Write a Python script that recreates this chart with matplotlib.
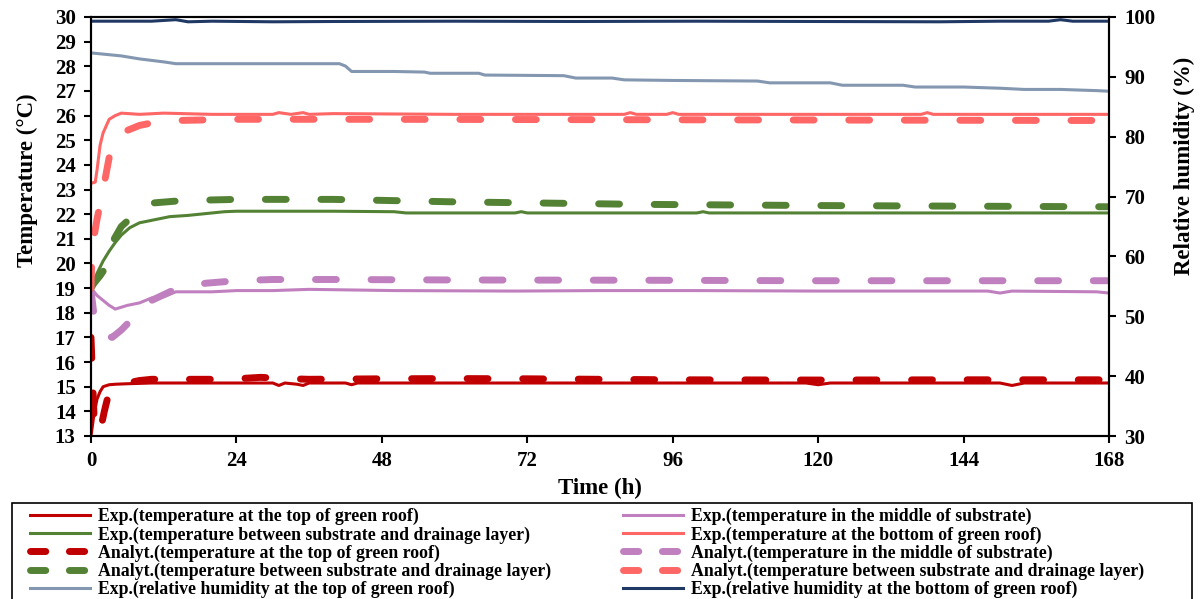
import matplotlib
matplotlib.use("Agg")
import matplotlib.pyplot as plt
from matplotlib.lines import Line2D
from matplotlib.patches import Rectangle

plt.rcParams["font.family"] = ["Liberation Serif", "DejaVu Serif"]
plt.rcParams["font.weight"] = "bold"

# --- data (time in h) ---
t_top = [0, 0.5, 1, 1.5, 2, 3, 4, 6, 10, 20, 30, 31, 32, 34, 35, 36, 42, 43, 44, 60, 84, 100, 118, 120, 122, 140, 150, 152, 154, 168]
exp_top = [13.0, 13.9, 14.5, 14.8, 15.0, 15.08, 15.1, 15.12, 15.15, 15.15, 15.15, 15.05, 15.15, 15.1, 15.05, 15.15, 15.15, 15.08, 15.15, 15.15, 15.15, 15.15, 15.15, 15.08, 15.15, 15.15, 15.15, 15.05, 15.15, 15.15]

t_an_top = [0, 0.15, 0.3, 0.5, 1.0, 1.6, 2.2, 2.8, 4, 6, 8, 10, 14, 20, 24, 28, 32, 36, 48, 60, 72, 84, 96, 120, 144, 168]
an_top = [17.0, 16.0, 15.0, 13.8, 13.1, 13.3, 14.0, 14.6, 14.95, 15.15, 15.25, 15.3, 15.3, 15.3, 15.32, 15.38, 15.33, 15.3, 15.32, 15.33, 15.32, 15.3, 15.28, 15.27, 15.28, 15.28]

t_mid = [0, 1, 2, 3, 4, 6, 8, 10, 12, 14, 20, 24, 30, 36, 50, 70, 84, 100, 120, 148, 150, 152, 166, 168]
exp_mid = [19.0, 18.7, 18.5, 18.3, 18.15, 18.3, 18.4, 18.6, 18.65, 18.85, 18.85, 18.9, 18.9, 18.95, 18.9, 18.88, 18.9, 18.9, 18.88, 18.88, 18.8, 18.88, 18.85, 18.8]

t_an_mid = [0, 0.5, 1, 2, 3.5, 5, 7, 10, 13, 15, 19, 24, 30, 40, 60, 90, 120, 168]
an_mid = [18.9, 17.9, 17.4, 17.1, 17.0, 17.3, 17.8, 18.5, 18.85, 19.05, 19.2, 19.3, 19.35, 19.35, 19.33, 19.32, 19.3, 19.3]

t_bet = [0, 1, 2, 3, 4, 5, 6.4, 8, 10, 13, 16, 20, 22, 24, 40, 50, 52, 70, 71, 72, 100, 101, 102, 168]
exp_bet = [19.0, 19.6, 20.1, 20.5, 20.85, 21.15, 21.45, 21.65, 21.75, 21.9, 21.95, 22.05, 22.1, 22.12, 22.12, 22.1, 22.05, 22.05, 22.1, 22.05, 22.05, 22.1, 22.05, 22.05]

t_an_bet = [0, 0.5, 1.5, 2.6, 3.6, 5, 6.8, 8, 10, 15, 24, 40, 60, 90, 120, 168]
an_bet = [19.0, 19.2, 19.5, 19.9, 20.9, 21.5, 21.9, 22.2, 22.45, 22.55, 22.6, 22.6, 22.5, 22.4, 22.35, 22.3]

t_bot = [0, 0.7, 1, 1.5, 2, 3, 4, 5, 8, 12, 20, 30, 31, 33, 35, 36, 40, 60, 88, 89, 90, 95, 96, 97, 137, 138, 139, 168]
exp_bot = [23.25, 23.3, 23.8, 24.8, 25.3, 25.85, 26.0, 26.1, 26.05, 26.1, 26.05, 26.05, 26.12, 26.05, 26.12, 26.05, 26.08, 26.05, 26.05, 26.12, 26.05, 26.05, 26.12, 26.05, 26.05, 26.12, 26.05, 26.05]

t_an_bot = [0, 0.1, 0.3, 1, 2, 3, 4, 6, 8, 10, 14, 24, 48, 96, 168]
an_bot = [19.0, 20.0, 20.8, 21.8, 23.0, 24.3, 25.0, 25.4, 25.6, 25.7, 25.8, 25.85, 25.85, 25.83, 25.8]

t_rh_top = [0, 1, 3, 5, 8, 12, 14, 41, 42, 43, 50, 55, 56, 64, 65, 78, 80, 86, 88, 96, 110, 112, 122, 124, 134, 136, 144, 150, 154, 160, 166, 168]
rh_top = [94.0, 93.9, 93.7, 93.5, 93.0, 92.5, 92.2, 92.2, 91.8, 90.9, 90.9, 90.8, 90.6, 90.6, 90.3, 90.2, 89.8, 89.8, 89.5, 89.4, 89.3, 89.0, 89.0, 88.6, 88.6, 88.3, 88.3, 88.1, 87.9, 87.9, 87.7, 87.6]

t_rh_bot = [0, 5, 10, 14, 16, 20, 30, 40, 60, 80, 100, 120, 140, 150, 158, 160, 162, 168]
rh_bot = [99.3, 99.3, 99.3, 99.55, 99.2, 99.3, 99.2, 99.25, 99.3, 99.25, 99.3, 99.25, 99.2, 99.3, 99.3, 99.55, 99.3, 99.3]

x_ticks = [0, 24, 48, 72, 96, 120, 144, 168]

labels_left = [
    "Exp.(temperature at the top of green roof)",
    "Exp.(temperature between substrate and drainage layer)",
    "Analyt.(temperature at the top of green roof)",
    "Analyt.(temperature between substrate and drainage layer)",
    "Exp.(relative humidity at the top of green roof)",
]
labels_right = [
    "Exp.(temperature in the middle of substrate)",
    "Exp.(temperature at the bottom of green roof)",
    "Analyt.(temperature in the middle of substrate)",
    "Analyt.(temperature between substrate and drainage layer)",
    "Exp.(relative humidity at the bottom of green roof)",
]

c_top = "#C00000"
c_mid = "#C080BF"
c_bet = "#548235"
c_bot = "#FF6666"
c_rh1 = "#8497B0"
c_rh2 = "#1F3864"

W, H = 1203, 599
fig = plt.figure(figsize=(W / 100, H / 100), dpi=100)
ax = fig.add_axes([91 / W, 1 - 436 / H, 1018 / W, 419 / H])
ax2 = ax.twinx()

lw_e = 2.2
lw_a = 5.0
dsh = (3.0, 5.0)

ax.plot(t_top, exp_top, color=c_top, lw=lw_e)
ax.plot(t_mid, exp_mid, color=c_mid, lw=lw_e)
ax.plot(t_bet, exp_bet, color=c_bet, lw=lw_e)
ax.plot(t_bot, exp_bot, color=c_bot, lw=lw_e)
ax.plot(t_an_top, an_top, color=c_top, lw=lw_a, dashes=dsh, dash_capstyle="round")
ax.plot(t_an_mid, an_mid, color=c_mid, lw=lw_a, dashes=dsh, dash_capstyle="round")
ax.plot(t_an_bet, an_bet, color=c_bet, lw=lw_a, dashes=dsh, dash_capstyle="round")
ax.plot(t_an_bot, an_bot, color=c_bot, lw=lw_a, dashes=dsh, dash_capstyle="round")
ax2.plot(t_rh_top, rh_top, color=c_rh1, lw=lw_e)
ax2.plot(t_rh_bot, rh_bot, color=c_rh2, lw=lw_e)

ax.set_xlim(0, 168)
ax.set_ylim(13, 30)
ax.set_yticks(range(13, 31))
ax.set_xticks(x_ticks)
ax2.set_ylim(30, 100)
ax2.set_yticks(range(30, 101, 10))

for a in (ax, ax2):
    a.tick_params(direction="out", length=5, width=1.5, labelsize=15, pad=6)
    for s in a.spines.values():
        s.set_linewidth(1.5)

ax.set_xlabel("Time (h)", fontsize=16.5, fontweight="bold", labelpad=5)
ax.set_ylabel("Temperature (\u00b0C)", fontsize=16.5, fontweight="bold")
ax2.set_ylabel("Relative humidity (%)", fontsize=16.5, fontweight="bold")
ax.yaxis.set_label_coords(-0.052, 0.61)
ax2.yaxis.set_label_coords(1.064, 0.645)

# legend: proxy handles so the dashed keys look like the original
def key(c, dashed):
    if dashed:
        return Line2D([], [], color=c, lw=lw_a, dashes=(2.2, 3.4), dash_capstyle="round")
    return Line2D([], [], color=c, lw=lw_e)

h_left = [key(c_top, False), key(c_bet, False), key(c_top, True), key(c_bet, True), key(c_rh1, False)]
h_right = [key(c_mid, False), key(c_bot, False), key(c_mid, True), key(c_bot, True), key(c_rh2, False)]

fig.patches.append(Rectangle((12 / W, -0.05), 1180 / W, 0.05 + 1 - 503 / H,
                             transform=fig.transFigure, fill=False,
                             edgecolor="black", lw=1.2))

opts = dict(loc="upper left", frameon=False, prop={"size": 12.8, "weight": "bold"},
            handlelength=3.4, handletextpad=0.4, labelspacing=0.05,
            borderpad=0, borderaxespad=0)
fig.legend(h_left, labels_left, bbox_to_anchor=(30 / W, 1 - 508 / H), **opts)
fig.legend(h_right, labels_right, bbox_to_anchor=(623 / W, 1 - 508 / H), **opts)

plt.savefig("out.png", dpi=100)
plt.close()
